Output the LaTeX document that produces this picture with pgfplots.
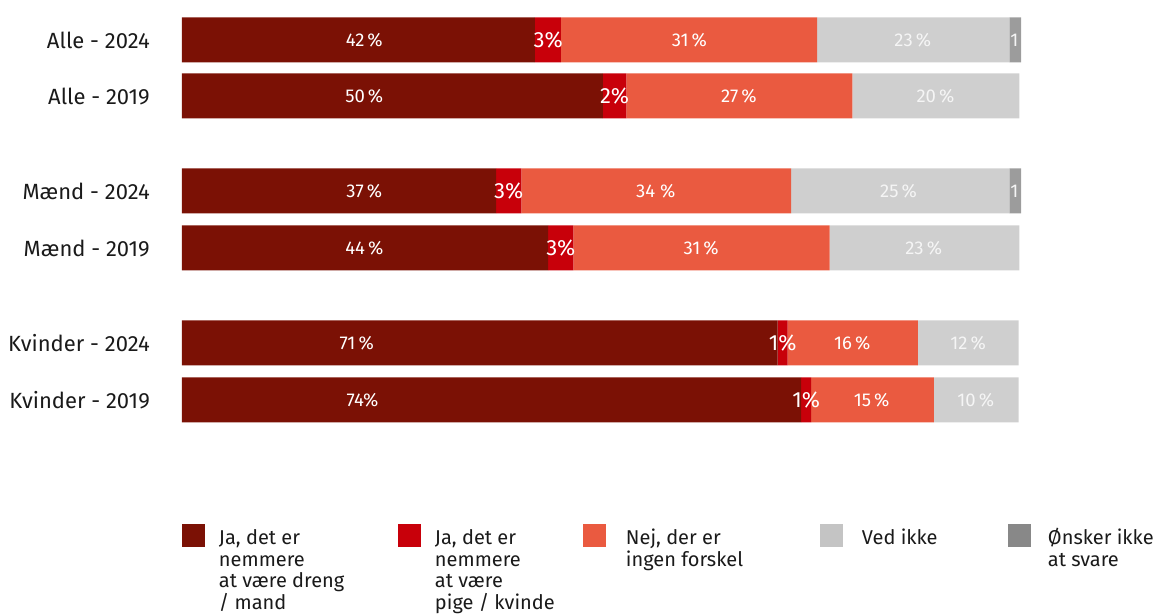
\documentclass[border=0pt]{standalone}
\usepackage{pgfplots}
\pgfplotsset{compat=1.18}
\usepackage{pgfplotstable}
\usepackage{fontspec}
\setmainfont{Fira Sans}
\definecolor{cDark}{RGB}{123,17,5}
\definecolor{cRed}{RGB}{200,0,10}
\definecolor{cSalmon}{RGB}{234,90,64}
\definecolor{cLight}{RGB}{207,207,207}
\definecolor{cGray}{RGB}{156,156,156}
\definecolor{cLightLeg}{RGB}{196,196,196}
\definecolor{cGrayLeg}{RGB}{136,136,136}
\definecolor{cText}{RGB}{26,26,26}
\definecolor{cOnGray}{RGB}{245,245,245}

% y = vertical position of the bar centre
\pgfplotstableread{
y    dark  red  salmon light gray
-40  42.0  3.1  30.5   22.9  1.4
-96  50.1  2.8  26.9   19.9  0
-191 37.4  3.0  32.1   26.0  1.4
-248 43.6  3.0  30.5   22.6  0
-343 70.9  1.2  15.5   12.0  0
-400 73.7  1.2  14.6   10.1  0
}\datatable

\begin{document}
\begin{tikzpicture}
\begin{axis}[
  scale only axis, width=840pt, height=613pt,
  xmin=0, xmax=100, ymin=-613, ymax=0,
  enlargelimits=false, clip=false,
  xbar stacked, bar width=45pt,
  axis line style={draw=none},
  major tick length=0pt,
  xtick=\empty,
  ytick={-400,-343,-248,-191,-96,-40},
  yticklabels={Kvinder - 2019, Kvinder - 2024, Mænd - 2019, Mænd - 2024, Alle - 2019, Alle - 2024},
  yticklabel style={font=\fontsize{22}{24}\selectfont, text=cText, inner sep=0pt, anchor=east},
  yticklabel shift=32pt,
  legend columns=5,
  legend style={at={(axis cs:0,-524)}, anchor=north west, draw=none, fill=none,
    inner sep=0pt, outer sep=0pt, column sep=0pt, row sep=0pt,
    font=\fontsize{20}{21.7}\selectfont, text=cText,
    nodes={inner sep=0pt, outer sep=0pt}, cells={anchor=base west}},
]
\addplot[fill=cDark, draw=none,
  legend image code/.code={\fill[cDark] (0pt,-2.5pt) rectangle (23pt,20.5pt); \path (37pt,0pt);}]
  table[x=dark, y=y] {\datatable};
\addlegendentry{\parbox[t]{179pt}{Ja, det er\\nemmere\\at være dreng\\/ mand}}
\addplot[fill=cRed, draw=none,
  legend image code/.code={\fill[cRed] (0pt,-2.5pt) rectangle (23pt,20.5pt); \path (37pt,0pt);}]
  table[x=red, y=y] {\datatable};
\addlegendentry{\parbox[t]{148pt}{Ja, det er\\nemmere\\at være\\pige / kvinde}}
\addplot[fill=cSalmon, draw=none,
  legend image code/.code={\fill[cSalmon] (0pt,-2.5pt) rectangle (23pt,20.5pt); \path (43pt,0pt);}]
  table[x=salmon, y=y] {\datatable};
\addlegendentry{\parbox[t]{194pt}{Nej, der er\\ingen forskel}}
\addplot[fill=cLight, draw=none,
  legend image code/.code={\fill[cLightLeg] (0pt,-2.5pt) rectangle (23pt,20.5pt); \path (42pt,0pt);}]
  table[x=light, y=y] {\datatable};
\addlegendentry{\parbox[t]{146pt}{Ved ikke}}
\addplot[fill=cGray, draw=none,
  legend image code/.code={\fill[cGrayLeg] (0pt,-2.5pt) rectangle (23pt,20.5pt); \path (40pt,0pt);}]
  table[x=gray, y=y] {\datatable};
\addlegendentry{\parbox[t]{108pt}{Ønsker ikke\\at svare}}
\path (rel axis cs:-0.2166667,0) rectangle (rel axis cs:1.1619048,1);
\end{axis}

% value labels
\begin{axis}[
  scale only axis, width=840pt, height=613pt,
  xmin=0, xmax=100, ymin=-613, ymax=0,
  enlargelimits=false, clip=false, hide axis,
]
\addplot[only marks, mark=*, mark size=0pt, mark options={draw=none, fill=none},
  nodes near coords, point meta=explicit symbolic,
  every node near coord/.append style={anchor=center, inner sep=0pt, font=\fontsize{18.5}{20}\selectfont, text=white}]
  coordinates {
  (21.7,-40) [42\,\%] (60.4,-40) [31\,\%]
  (21.7,-96) [50\,\%] (66.3,-96) [27\,\%]
  (21.7,-191) [37\,\%] (56.4,-191) [34~\%]
  (21.7,-248) [44\,\%] (61.8,-248) [31\,\%]
  (20.8,-343) [71\,\%] (79.8,-343) [16\,\%]
  (21.5,-400) [74\%] (82.1,-400) [15\,\%]
  };
\addplot[only marks, mark=*, mark size=0pt, mark options={draw=none, fill=none},
  nodes near coords, point meta=explicit symbolic,
  every node near coord/.append style={anchor=center, inner sep=0pt, font=\fontsize{18.5}{20}\selectfont, text=cOnGray}]
  coordinates {
  (87.0,-40) [23\,\%] (89.7,-96) [20\,\%]
  (85.3,-191) [25\,\%] (88.3,-248) [23\,\%]
  (93.6,-343) [12\,\%] (94.5,-400) [10\,\%]
  (99.1,-40) [1] (99.1,-191) [1]
  };
\addplot[only marks, mark=*, mark size=0pt, mark options={draw=none, fill=none},
  nodes near coords, point meta=explicit symbolic,
  every node near coord/.append style={anchor=center, inner sep=0pt, font=\fontsize{22}{24}\selectfont, text=white}]
  coordinates {
  (43.6,-40) [3\%] (51.5,-96) [2\%]
  (38.9,-191) [3\%] (45.1,-248) [3\%]
  (71.5,-343) [1\%] (74.3,-400) [1\%]
  };
\end{axis}
\end{tikzpicture}
\end{document}
